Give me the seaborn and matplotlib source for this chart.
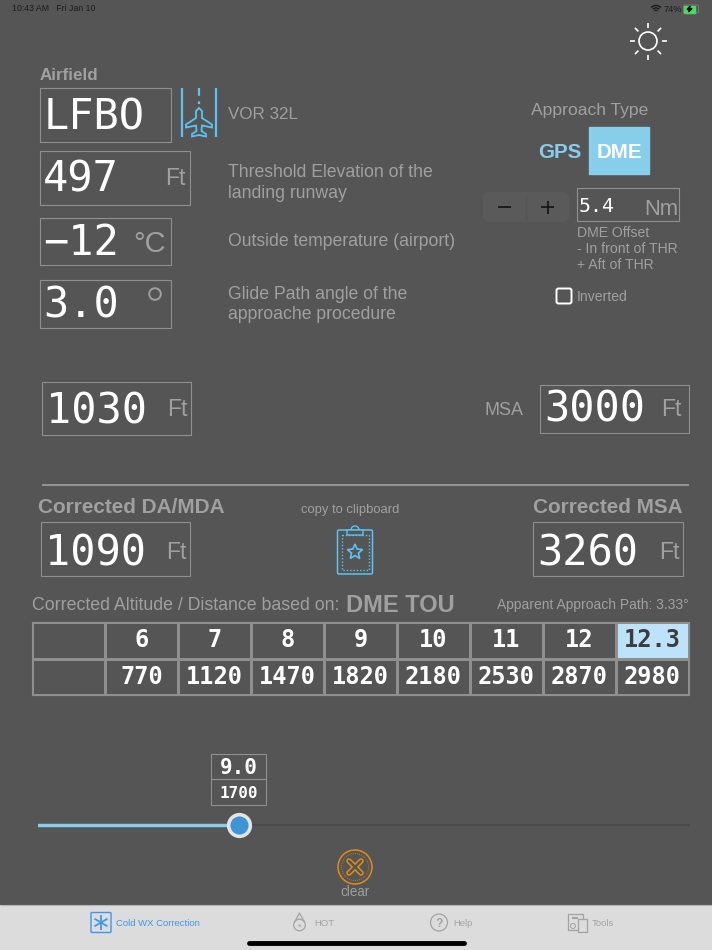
import numpy as np
import matplotlib.pyplot as plt
from matplotlib.colors import ListedColormap
from matplotlib.patches import Rectangle, Circle, FancyBboxPatch, Polygon, Arc
import seaborn as sns

W, H = 712, 950
BG = '#555555'
GREY = '#a0a0a0'
EDGE = '#8f8f8f'
BLUE = '#5ac4f2'
SKY = '#87ceeb'
SANS = 'Liberation Sans'
MONO = 'DejaVu Sans Mono'

# values
dme_labels = ['', '6', '7', '8', '9', '10', '11', '12', '12.3']
alt_labels = ['', '770', '1120', '1470', '1820', '2180', '2530', '2870', '2980']
highlight = [0, 0, 0, 0, 0, 0, 0, 0, 1]
slider_range = [0, 29.2]
slider_value = 9.0
slider_alt = 1700
airfield = 'LFBO'
procedure = 'VOR 32L'
elevation = 497
temperature = '−12'
glide = '3.0'
offset = '5.4'
da_mda = 1030
msa = 3000
corrected_da = 1090
corrected_msa = 3260
apparent_path = 3.33

sns.set_theme(style='white')
plt.rcParams['font.family'] = [SANS, 'DejaVu Sans']

fig = plt.figure(figsize=(W / 100, H / 100), dpi=100, facecolor=BG)
ax = fig.add_axes([0, 0, 1, 1])
ax.set_xlim(0, W)
ax.set_ylim(H, 0)
ax.axis('off')


def inset(x0, y0, x1, y1):
    return fig.add_axes([x0 / W, 1 - y1 / H, (x1 - x0) / W, (y1 - y0) / H])


def txt(x, y, s, px, color=GREY, family=SANS, weight='normal', ha='left'):
    # px = em size in screen pixels, y = baseline
    ax.text(x, y, s, fontsize=px * 0.72, color=color, family=family, weight=weight, ha=ha, va='baseline')


def box(x0, y0, x1, y1, ec=EDGE, lw=0.8):
    ax.add_patch(Rectangle((x0, y0), x1 - x0, y1 - y0, fc='none', ec=ec, lw=lw))


def seg(xs, ys, color, lw=1.5, **kw):
    ax.plot(xs, ys, color=color, lw=lw, solid_capstyle=kw.pop('cap', 'butt'), **kw)


# status bar
txt(12, 11, '10:43 AM   Fri Jan 10', 8.8, color='#1c1c1c')
txt(664, 11.5, '74%', 9.3, color='#1c1c1c')
for r in [7, 4.6, 2.2]:
    ax.add_patch(Arc((656, 12.5), 2 * r, 2 * r, theta1=225, theta2=315, color='#1c1c1c', lw=1))
ax.add_patch(FancyBboxPatch((684, 5.5), 14, 7, boxstyle='round,pad=0.5,rounding_size=1.5', fc='none', ec='#777777', lw=0.7))
ax.add_patch(Rectangle((684, 5.5), 11, 7, color='#4cd964'))
ax.add_patch(Polygon([(690, 6), (687, 9.5), (689.5, 9.5), (688.5, 12), (692, 8.5), (689.5, 8.5)], color='#111111'))

# brightness toggle
ax.add_patch(Circle((648, 41), 9, fc='none', ec='white', lw=1.2))
for a in np.deg2rad(np.arange(0, 360, 45)):
    seg([648 + 13.5 * np.cos(a), 648 + 18.5 * np.cos(a)], [41 + 13.5 * np.sin(a), 41 + 18.5 * np.sin(a)], 'white', 1.2)

# left input column
txt(40, 80, 'Airfield', 17, weight='bold')
box(40, 88, 171, 142)
txt(44, 130, airfield, 42, 'white', MONO)
box(40, 151, 190, 205)
txt(43, 192, str(elevation), 42, 'white', MONO)
txt(165, 185, 'Ft', 23)
box(40, 217.5, 171, 265)
txt(43, 255, temperature, 42, 'white', MONO)
txt(133, 252, '°C', 29)
box(40, 280, 171, 328)
txt(43, 318, glide, 42, 'white', MONO)
ax.add_patch(Circle((155, 294), 5.8, fc='none', ec=GREY, lw=1.4))

# runway + plane icon
seg([182, 182], [88, 137], BLUE, 1.6)
seg([215.7, 215.7], [88, 137], BLUE, 1.6)
seg([199, 199], [88, 104], BLUE, 1.6, ls=(0, (3.5, 2.5)))
ax.add_patch(Polygon([(199, 108), (202, 111), (202, 118), (212, 124.5), (212, 127.5), (202, 125.5), (201.5, 131),
                      (206, 134), (206, 136.5), (199, 135), (192, 136.5), (192, 134), (196.5, 131), (196, 125.5),
                      (186, 127.5), (186, 124.5), (196, 118), (196, 111)], fc='none', ec=BLUE, lw=1.3))

txt(228, 119, procedure, 17)
txt(228, 177, 'Threshold Elevation of the', 17.6)
txt(228, 198, 'landing runway', 17.6)
txt(228, 246, 'Outside temperature (airport)', 17.6)
txt(228, 299, 'Glide Path angle of the', 17.6)
txt(228, 319, 'approache procedure', 17.6)

# approach type panel
txt(589.5, 115, 'Approach Type', 17.5, ha='center')
txt(560, 158, 'GPS', 20.5, color=SKY, weight='bold', ha='center')
ax.add_patch(Rectangle((589, 127), 60, 47, color=SKY))
txt(619, 158, 'DME', 20.5, color='white', weight='bold', ha='center')
ax.add_patch(FancyBboxPatch((486, 195), 80, 24, boxstyle='round,pad=3,rounding_size=6', fc='#5a5a5a', ec='none'))
seg([526, 526], [195, 220], '#545454', 1)
seg([498, 511], [207, 207], '#111111', 1.2)
seg([541, 554], [207, 207], '#111111', 1.2)
seg([547.5, 547.5], [200.5, 213.5], '#111111', 1.2)
box(577, 188, 679, 221)
txt(579, 212, offset, 20, 'white', MONO)
txt(644, 215, 'Nm', 22)
txt(577, 237, 'DME Offset', 14)
txt(577, 253, '- In front of THR', 14)
txt(577, 269, '+ Aft of THR', 14)
ax.add_patch(FancyBboxPatch((557, 289), 14, 14, boxstyle='round,pad=0.5,rounding_size=2', fc='none', ec='white', lw=1.4))
txt(577, 301, 'Inverted', 14)

# minima inputs
box(42, 382, 191, 435)
txt(46, 424, str(da_mda), 42, 'white', MONO)
txt(167, 416, 'Ft', 23)
txt(485, 415, 'MSA', 18)
box(540, 385, 689, 433)
txt(544, 422, str(msa), 42, 'white', MONO)
txt(661, 416, 'Ft', 23)

seg([42, 689], [484.5, 484.5], '#9a9a9a', 1.3)

txt(38, 513, 'Corrected DA/MDA', 20.8, weight='bold')
txt(350, 513, 'copy to clipboard', 13, ha='center')
txt(533, 513, 'Corrected MSA', 20.8, weight='bold')
box(41, 522, 190, 576)
txt(45, 565, str(corrected_da), 42, 'white', MONO)
txt(166, 559, 'Ft', 23)
box(533, 522, 683, 576)
txt(537, 565, str(corrected_msa), 42, 'white', MONO)
txt(659, 559, 'Ft', 23)

# clipboard icon
ax.add_patch(FancyBboxPatch((337.5, 530), 35, 44, boxstyle='round,pad=0,rounding_size=1.5', fc=BG, ec=BLUE, lw=1.1))
ax.add_patch(Rectangle((341.5, 535), 27, 35, fc='none', ec=BLUE, lw=1, ls=(0, (1, 1.4))))
ax.add_patch(FancyBboxPatch((347, 530), 16, 5, boxstyle='round,pad=0,rounding_size=1', fc=BG, ec=BLUE, lw=1))
ax.add_patch(Arc((355, 530), 8, 8, theta1=180, theta2=360, color=BLUE, lw=1))
star_a = np.deg2rad(np.arange(-90, 270, 36))
star_r = np.where(np.arange(10) % 2 == 0, 8, 3.6)
ax.add_patch(Polygon(np.c_[355 + star_r * np.cos(star_a), 552 + star_r * np.sin(star_a)], fc='none', ec=BLUE, lw=1.2))

# table
txt(32, 610, 'Corrected Altitude / Distance based on:', 17.8)
txt(346, 612, 'DME TOU', 23.6, weight='bold')
txt(689, 609, f'Apparent Approach Path: {apparent_path}°', 13.9, ha='right')

cells = np.array([highlight, [0] * len(highlight)])
cell_text = np.array([dme_labels, alt_labels])
tax = inset(32, 622, 689, 695)
sns.heatmap(cells, ax=tax, cmap=ListedColormap([BG, '#bde3fb']), vmin=0, vmax=1, cbar=False, annot=cell_text, fmt='',
            linewidths=0.8, linecolor=EDGE, xticklabels=False, yticklabels=False,
            annot_kws={'family': MONO, 'weight': 'bold', 'fontsize': 17})
for t in tax.texts:
    t.set_color('white')
tax.texts[8].set_color('#3c3c3c')
for s in tax.spines.values():
    s.set_visible(True)
    s.set_color(EDGE)
    s.set_linewidth(0.8)

# slider
box(211, 754, 266, 779)
box(211, 779, 266, 805)
txt(238.5, 774, f'{slider_value:.1f}', 21, 'white', MONO, 'bold', 'center')
txt(238.5, 798, str(slider_alt), 16, 'white', MONO, 'bold', 'center')
sax = inset(38, 815, 690, 835)
sax.patch.set_alpha(0)
sns.lineplot(x=slider_range, y=[0, 0], ax=sax, color='#4a4a4a', lw=1.5)
sns.lineplot(x=[slider_range[0], slider_value], y=[0, 0], ax=sax, color=SKY, lw=2.5)
sax.set_xlim(*slider_range)
sax.set_ylim(-1, 1)
sax.axis('off')
sns.scatterplot(x=[slider_value], y=[0], ax=sax, s=330, color='#e4e4e4', linewidth=0, clip_on=False, zorder=5)
sns.scatterplot(x=[slider_value], y=[0], ax=sax, s=170, color='#3d94d6', linewidth=0, clip_on=False, zorder=6)

# clear button
ORANGE = '#e18c14'
ax.add_patch(Circle((355, 867), 17, fc='none', ec=ORANGE, lw=1.1))
ax.add_patch(Circle((355, 867), 13.5, fc='none', ec=ORANGE, lw=0.6, ls=(0, (1, 1.5))))
seg([349, 361], [861, 873], ORANGE, 4, cap='round')
seg([349, 361], [873, 861], ORANGE, 4, cap='round')
seg([349, 361], [861, 873], BG, 1.8, cap='round')
seg([349, 361], [873, 861], BG, 1.8, cap='round')
txt(355, 896, 'clear', 13.5, ha='center')

# tab bar
ax.add_patch(Rectangle((0, 905), W, 45, fc='#dcdcdc', ec='none'))
seg([0, W], [905, 905], '#b5b5b5', 0.8)
TAB = '#3d97f0'
TABG = '#a3a3a3'
ax.add_patch(FancyBboxPatch((91, 912.5), 20, 20, boxstyle='round,pad=0,rounding_size=1', fc='none', ec=TAB, lw=1))
for a in np.deg2rad([30, 90, 150]):
    seg([101 - 7.5 * np.cos(a), 101 + 7.5 * np.cos(a)], [922.5 - 7.5 * np.sin(a), 922.5 + 7.5 * np.sin(a)], TAB, 1.3)
txt(116, 926.5, 'Cold WX Correction', 9.5, color=TAB)
ax.add_patch(Circle((299.5, 925), 5.8, fc='none', ec=TABG, lw=0.9))
seg([294.6, 299.5, 304.4], [922, 913, 922], TABG, 0.9)
txt(299.5, 930, '*', 9, color=TABG, ha='center')
txt(314, 926.5, 'HOT', 9.5, color=TABG)
ax.add_patch(Circle((439, 922.5), 8.5, fc='none', ec=TABG, lw=0.9))
txt(439, 927, '?', 12, color=TABG, weight='bold', ha='center')
txt(453, 926.5, 'Help', 9.5, color=TABG)
ax.add_patch(Rectangle((568, 914), 15, 16, fc='none', ec=TABG, lw=0.9))
ax.add_patch(Rectangle((578, 919), 9, 13, fc='#dcdcdc', ec=TABG, lw=0.9))
ax.add_patch(Circle((573, 926), 2.5, fc='none', ec=TABG, lw=0.7))
seg([572, 578], [918, 918], TABG, 1.5)
txt(592, 926.5, 'Tools', 9.5, color=TABG)
seg([249, 464], [942.5, 942.5], '#000000', 3.5, cap='round')

fig.savefig('out.png', dpi=100, facecolor=BG)
